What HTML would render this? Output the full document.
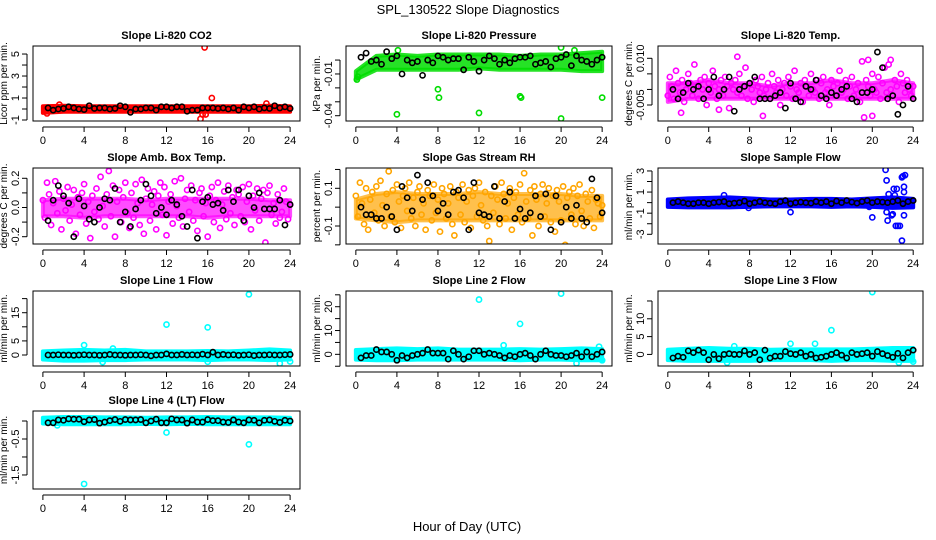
<!DOCTYPE html>
<html><head><meta charset="utf-8"><style>
html,body{margin:0;padding:0;background:#fff;}
svg{display:block;font-family:"Liberation Sans",Arial,sans-serif;}
</style></head><body>
<svg id="chart" width="936" height="540" viewBox="0 0 936 540" xmlns="http://www.w3.org/2000/svg">
<text x="468" y="14" text-anchor="middle" font-size="13">SPL_130522  Slope Diagnostics</text>
<text x="467" y="531" text-anchor="middle" font-size="13">Hour of Day (UTC)</text>
</svg>
<script>
// ---- data ----
const xTicks = [0,4,8,12,16,20,24];
const bandHours = [0,2,4,6,8,10,12,14,16,18,20,22,24];

const co2Black = [0.1,-0.1,0,0.05,0.2,0.1,0,-0.05,0.3,0.05,0.1,0.1,0,0.05,0.3,0.2,-0.3,0,0,0.1,0.1,-0.1,0.2,0.2,0.1,0.2,0.2,-0.2,-0.1,-0.1,0.1,0.1,0.1,0.05,0.1,0,0.1,-0.1,0.2,0.1,0.2,0,0.1,0.05,0.3,0.1,0.2,0.05];
const co2Lo = [-0.35,-0.25,-0.25,-0.25,-0.25,-0.25,-0.25,-0.25,-0.25,-0.25,-0.25,-0.25,-0.25];
const co2Hi = [0.25,0.3,0.25,0.25,0.25,0.25,0.25,0.25,0.25,0.25,0.25,0.3,0.25];
const co2Out = [[15.7,5.6],[16.4,1.0],[15.3,-0.9],[15.5,-0.5],[15.8,-0.5],[21.7,0.5],[1.6,0.4],[0.4,-0.4]];

const presBlack = [0.002,0.005,-0.001,0,-0.003,0.006,0.001,0.003,-0.010,0,-0.002,-0.001,-0.011,0,-0.002,0.003,0.002,0,0.001,0.001,-0.007,0.002,-0.001,-0.008,0,0.003,0.001,-0.003,0,-0.002,0.001,0.002,0.002,0.003,-0.003,-0.002,-0.001,-0.005,0.001,0.002,0.004,-0.004,0.003,0,-0.001,-0.003,0,0.002];
const presLo = [-0.014,-0.007,-0.007,-0.007,-0.007,-0.007,-0.006,-0.007,-0.007,-0.007,-0.007,-0.008,-0.008];
const presHi = [-0.008,0.003,0.004,0.003,0.004,0.004,0.004,0.004,0.003,0.004,0.004,0.005,0.006];
const presOut = [[4,-0.039],[8,-0.021],[8.1,-0.027],[12,-0.038],[16,-0.026],[16.1,-0.027],[20,-0.042],[24,-0.027],[20,0.009],[4.1,0.007],[21.3,0.007],[0.2,-0.012],[0.1,-0.014]];

const tempBlack = [0,-0.003,-0.001,0.002,0,0.001,-0.003,0,0.004,-0.002,0,0.004,-0.007,0,0.001,0.002,0.004,-0.003,-0.003,-0.003,-0.002,-0.001,-0.006,0.002,-0.003,-0.004,0.001,0,0.003,-0.002,-0.003,-0.001,-0.002,0,0.001,-0.003,-0.004,-0.001,-0.001,0,0.012,0.007,-0.003,-0.002,-0.008,-0.005,0.001,-0.003];
const tempLo = [-0.004,-0.003,-0.003,-0.003,-0.003,-0.003,-0.003,-0.003,-0.003,-0.003,-0.003,-0.003,-0.003];
const tempHi = [0.002,0.002,0.003,0.002,0.002,0.001,0.002,0.002,0.003,0.002,0.002,0.003,0.002];
const tempScatter = [-0.002,0.004,0.001,-0.003,0.006,0.002,-0.001,0.003,-0.004,0,0.005,0.002,-0.002,0.008,0.001,-0.003,0.003,0,0.004,-0.005,0.002,-0.001,0.006,0.001,-0.003,0,0.003,-0.002,0.004,0.001,-0.006,0.002,0,0.003,-0.001,0.005,-0.002,0.001,0.007,-0.003,0.002,0,-0.004,0.003,0.001,-0.001,0.004,-0.002,0,0.002,-0.003,0.005,0.001,-0.001,0.003,-0.005,0,0.002,-0.002,0.004,0.001,-0.003,0.006,0,-0.001,0.002,-0.004,0.003,0.001,-0.002,0.005,0,-0.001,0.003,-0.003,0.002,0.004,-0.001,0,-0.005,0.003,0.001,-0.002,0.002,0.006,-0.001,0,0.003,-0.003,0.001,0.004,-0.002,0,0.002,-0.004,0.009,-0.009,0.003,0.001,-0.002,0.005,0,-0.001,0.004,-0.003,0.002,0.007,-0.001,0.008,0,-0.002,0.003,0.001,-0.004,0.005,0.002,-0.001,0.003,0,-0.002,0.001];
const tempOut = [[6.8,0.0105],[1.3,-0.0075],[5,-0.0065],[9.3,-0.0085],[20,-0.0085],[19.6,0.0095],[21.8,0.0095]];

const boxBlack = [-0.09,0.05,0.15,0.08,0.03,-0.2,0.06,0.01,-0.08,-0.1,0,0.06,0.05,0.13,-0.1,-0.03,-0.13,-0.01,0.05,0.16,0.08,-0.04,0,-0.05,0.05,0.02,-0.06,-0.13,0.12,-0.21,0.04,0.07,0.02,0.03,-0.02,0.12,0.04,0.12,-0.09,0.08,0.0,0.1,-0.01,-0.01,-0.01,0.05,-0.12,0.02];
const boxLo = [-0.06,-0.06,-0.07,-0.06,-0.06,-0.06,-0.06,-0.06,-0.07,-0.06,-0.06,-0.06,-0.06];
const boxHi = [0.05,0.06,0.06,0.06,0.06,0.05,0.06,0.06,0.06,0.06,0.06,0.05,0.05];
const boxScatter = [0.05,-0.07,0.17,0.09,-0.12,0.03,0.18,-0.04,0.11,-0.15,0.06,-0.02,0.14,-0.09,0.02,0.12,-0.18,0.07,-0.05,0.1,0.16,-0.11,0.04,-0.21,0.08,-0.03,0.13,-0.08,0.21,0.01,-0.13,0.09,0.25,-0.06,0.15,-0.2,0.04,0.12,-0.1,0.07,0.17,-0.04,-0.14,0.1,-0.07,0.16,0.03,-0.12,0.19,-0.18,0.06,0.13,-0.09,0.02,0.11,-0.15,0.08,0.17,-0.05,0.14,-0.19,0.04,0.09,-0.11,0.18,0.01,-0.07,0.2,-0.13,0.06,0.12,-0.03,0.15,-0.09,0.05,-0.16,0.1,0.13,-0.06,0.03,-0.2,0.08,0.14,-0.1,0.05,0.17,-0.14,0.02,0.11,-0.08,0.15,-0.04,0.07,-0.12,0.12,0.09,-0.06,0.14,-0.1,0.04,0.16,-0.15,0.08,-0.02,0.13,-0.09,0.06,0.12,-0.24,0.1,0.15,-0.05,0.03,-0.11,0.09,-0.07,-0.03,0.13,0.04,-0.08,0.02];

const rhBlack = [0,-0.04,-0.04,-0.06,-0.06,0,-0.05,-0.12,0.11,0.05,-0.02,0.17,0.04,0.13,0.06,-0.02,0.02,-0.04,0.08,0.09,0.05,-0.12,0.13,-0.03,-0.04,-0.05,0.11,-0.06,0.03,0.08,-0.06,-0.01,-0.06,-0.03,0.06,-0.05,0.07,-0.12,0.06,-0.08,0.0,-0.06,0.01,-0.06,-0.08,0.15,0.05,-0.03];
const rhLo = [-0.06,-0.07,-0.08,-0.07,-0.07,-0.07,-0.07,-0.07,-0.07,-0.07,-0.07,-0.07,-0.07];
const rhHi = [0.04,0.07,0.08,0.07,0.07,0.07,0.08,0.07,0.07,0.07,0.07,0.06,0.06];
const rhScatter = [0.06,-0.05,0.13,0.02,-0.09,0.1,-0.12,0.04,0.08,-0.03,0.11,-0.07,0.14,0.01,-0.1,0.07,0.19,-0.05,0.09,-0.08,0.12,0.03,-0.11,0.06,0.1,-0.02,0.13,-0.06,0.05,-0.1,0.08,0.11,-0.04,0.02,-0.12,0.09,0.06,-0.07,0.12,-0.03,0.04,-0.13,0.1,0.07,-0.06,0.02,0.11,-0.09,-0.15,0.08,0.05,-0.04,0.12,-0.08,0.03,0.09,-0.11,0.06,0.1,-0.05,0.13,0.01,-0.07,0.08,-0.1,-0.18,0.06,-0.03,0.11,0.04,-0.09,0.13,0.07,-0.06,0.02,0.1,-0.12,0.05,0.08,-0.04,0.12,-0.08,0.18,0.03,-0.06,0.09,-0.15,0.11,0.04,-0.1,0.07,0.12,-0.05,0.02,0.1,-0.08,0.06,-0.13,0.09,0.03,-0.07,0.11,-0.2,0.05,0.08,-0.04,0.1,-0.09,0.06,0.12,-0.02,-0.1,0.07,0.03,-0.06,0.09,-0.11,0.04,0.02,-0.05,0.01];

const flowBlack = [0,0.1,0,-0.1,-0.1,0,0,-0.1,0,0.05,0.1,-0.1,-0.05,0,0.15,-0.1,0,0.1,0,-0.05,-0.1,0.1,0.2,-0.1,0,0.05,0,-0.05,0.1,0,0.1,-0.1,0.15,0,0.2,0.05,-0.05,0.1,0.2,0,0.1,0.05,0,0.1,0.2,-0.1,0.1,0.2];
const flowLo = [-0.4,-0.45,-0.45,-0.45,-0.4,-0.35,-0.35,-0.35,-0.4,-0.35,-0.4,-0.5,-0.45];
const flowHi = [0.3,0.4,0.45,0.5,0.4,0.3,0.3,0.35,0.35,0.3,0.4,0.5,0.35];
const flowOut = [[21.3,3.1],[21.4,2.1],[21.5,-1.7],[21.4,-0.9],[21.6,0.8],[21.9,-1.2],[22.0,-1.1],[22.1,1.3],[22.3,-2.2],[22.5,-2.2],[22.7,-2.2],[22.9,2.4],[23.0,2.5],[23.1,1.5],[23.1,1.0],[23.2,2.6],[22.9,-3.6],[23.1,-1.2],[22.2,0.7],[12,-0.9],[20,-1.4],[7.9,-0.5],[21.8,0.3],[22.4,1.3],[5.5,0.7],[19.7,-0.4]];

const l1Black = [0,0,0.1,0,0,-0.1,0,0.1,0,0,-0.1,0,0.2,0,0,-0.1,0,0,0.1,0,-0.3,0,0,0.4,0,0,0.2,0,0.1,0,0.3,0,1,0,0.2,0,0.1,-0.1,0,0.1,-0.2,0,0,0.1,0,0,0.1,0.2];
const l1Lo = [-1.6,-2,-2,-1.8,-1.8,-1.6,-1.6,-1.6,-1.8,-1.6,-1.6,-1.8,-1.6];
const l1Hi = [1.3,1.6,1.8,1.6,1.8,1.3,1.3,1.3,1.4,1.3,1.6,2,1.6];
const l1Out = [[4,3.5],[12,10.8],[16,9.8],[20,21.5],[5.8,-2.5],[16,-2.4],[23,-3],[24,-2.3],[6.8,2.3]];

const l2Black = [-1.5,-0.5,-0.5,2,1,1,0,-2.5,-0.5,-1.5,-0.5,0,0.5,2,0.5,0.5,0.5,-2,1.5,0,-2,-1,1.5,1.5,0,0.5,0,-0.5,-1.5,-0.5,-1,0,0.5,-0.5,-2,0,1.5,0,-0.5,-0.5,-1,-0.5,0.5,-1,1,-1,0,1];
const l2Lo = [-2.2,-2.5,-2.5,-2.2,-2.2,-2.2,-2.2,-2.2,-2.5,-2.2,-2.2,-2.5,-2.5];
const l2Hi = [1.8,2.2,2.5,2.2,2.5,2,2,2,2.2,2,2.2,2.5,2.2];
const l2Out = [[12,23],[16,12.8],[20,25.5],[14.4,3.8],[21.5,-3.8],[23.7,3.2],[24,-2.5]];

const l3Black = [-1,-0.5,-0.8,1,0.5,1.2,0.5,-1.5,0,-1.2,0,0.2,0,0,1,0,0.5,-1.5,1.2,-1,-0.5,-0.5,0.8,0.2,0,0.5,-0.5,0,-1,-0.8,-0.5,0,0.5,-0.2,-1,0.5,0,0.2,0.5,-0.5,0.8,0.2,-0.3,-0.8,0.3,-1,0.5,1.2];
const l3Lo = [-1.6,-1.8,-1.8,-1.8,-1.8,-1.6,-1.6,-1.6,-1.8,-1.6,-1.6,-1.8,-1.8];
const l3Hi = [1.3,1.6,1.8,1.6,1.6,1.3,1.4,1.4,1.4,1.4,1.6,1.8,1.8];
const l3Out = [[20,17.5],[16,6.8],[12,3.0],[14.4,3.0],[24,-2.0],[22.6,-2.3],[5.8,-2.3],[6.5,2.3]];

const l4Black = [-0.05,-0.05,0.03,0.02,0.06,0.05,0.05,-0.02,0.03,0.04,-0.06,-0.03,0.01,0.04,-0.01,0.04,0.03,0.03,0.04,-0.05,0,0.05,-0.05,-0.05,0.06,0.03,0.03,-0.06,0.03,-0.03,-0.03,0.04,0.01,0.01,-0.03,-0.04,0.03,-0.03,-0.05,0.03,0.02,-0.05,0.02,0.03,-0.01,-0.04,0.02,0.0];
const l4Lo = [-0.07,-0.09,-0.09,-0.09,-0.09,-0.08,-0.09,-0.08,-0.09,-0.09,-0.09,-0.09,-0.09];
const l4Hi = [0.09,0.11,0.11,0.1,0.1,0.09,0.1,0.1,0.11,0.1,0.1,0.1,0.09];
const l4Out = [[4,-1.75],[12,-0.32],[20,-0.65],[1.4,-0.12]];

// ---- layout ----
const cols = [[33,300],[346,612],[658,923]];
const rows = [[46,121],[168,244],[291,366],[411,489]];
const XMIN = -0.96, XMAX = 24.96;

const panels = [
 {id:'co2',title:'Slope Li-820 CO2',ylab:'Licor ppm per min.',c:0,r:0,y:[-1.09,5.73],ticks:[-1,0,1,2,3,4,5],labs:[-1,1,3,5],col:'#ff0000',op:1,lo:co2Lo,hi:co2Hi,sc:null,out:co2Out,blk:co2Black},
 {id:'pressure',title:'Slope Li-820 Pressure',ylab:'kPa per min.',c:1,r:0,y:[-0.0438,0.0101],ticks:[-0.04,-0.03,-0.02,-0.01,0],labs:[-0.04,-0.01],fmt:v=>v.toFixed(2),col:'#00dd00',op:0.85,lo:presLo,hi:presHi,sc:null,out:presOut,blk:presBlack},
 {id:'temp',title:'Slope Li-820 Temp.',ylab:'degrees C per min.',c:2,r:0,y:[-0.01014,0.01395],ticks:[-0.005,0,0.005,0.01],labs:[-0.005,0.01],fmt:v=>v.toFixed(3),col:'#ff00ff',op:0.75,lo:tempLo,hi:tempHi,sc:tempScatter,out:tempOut,blk:tempBlack},
 {id:'box-temp',title:'Slope Amb. Box Temp.',ylab:'degrees C per min.',c:0,r:1,y:[-0.25,0.2705],ticks:[-0.2,-0.1,0,0.1,0.2],labs:[-0.2,0,0.2],fmt:v=>v.toFixed(1),col:'#ff00ff',op:0.7,lo:boxLo,hi:boxHi,sc:boxScatter,out:[],blk:boxBlack},
 {id:'rh',title:'Slope Gas Stream RH',ylab:'percent per min.',c:1,r:1,y:[-0.1955,0.2077],ticks:[-0.2,-0.1,0,0.1,0.2],labs:[-0.1,0.1],fmt:v=>v.toFixed(1),col:'#ffa500',op:0.7,lo:rhLo,hi:rhHi,sc:rhScatter,out:[],blk:rhBlack},
 {id:'sample-flow',title:'Slope Sample Flow',ylab:'ml/min per min.',c:2,r:1,y:[-3.92,3.28],ticks:[-3,-2,-1,0,1,2,3],labs:[-3,-1,1,3],col:'#0000ff',op:1,lo:flowLo,hi:flowHi,sc:null,out:flowOut,blk:flowBlack},
 {id:'line1',title:'Slope Line 1 Flow',ylab:'ml/min per min.',c:0,r:2,y:[-3.9,22.7],ticks:[0,5,10,15,20],labs:[0,5,15],col:'#00ffff',op:1,lo:l1Lo,hi:l1Hi,sc:null,out:l1Out,blk:l1Black},
 {id:'line2',title:'Slope Line 2 Flow',ylab:'ml/min per min.',c:1,r:2,y:[-4.9,26.6],ticks:[-5,0,5,10,15,20,25],labs:[0,10,20],col:'#00ffff',op:1,lo:l2Lo,hi:l2Hi,sc:null,out:l2Out,blk:l2Black},
 {id:'line3',title:'Slope Line 3 Flow',ylab:'ml/min per min.',c:2,r:2,y:[-3.25,17.8],ticks:[0,5,10,15],labs:[0,5,10],col:'#00ffff',op:1,lo:l3Lo,hi:l3Hi,sc:null,out:l3Out,blk:l3Black},
 {id:'line4',title:'Slope Line 4 (LT) Flow',ylab:'ml/min per min.',c:0,r:3,y:[-1.89,0.278],ticks:[-1.5,-1,-0.5,0],labs:[-1.5,-0.5],fmt:v=>v.toFixed(1),col:'#00ffff',op:1,lo:l4Lo,hi:l4Hi,sc:null,out:l4Out,blk:l4Black}
];

const NS='http://www.w3.org/2000/svg';
const svg=document.getElementById('chart');
function mk(tag,attrs,parent){const e=document.createElementNS(NS,tag);for(const k in attrs)e.setAttribute(k,attrs[k]);(parent||svg).appendChild(e);return e;}

panels.forEach(p=>{
  const [L,R]=cols[p.c],[T,B]=rows[p.r];
  const sx=v=>L+(v-XMIN)/(XMAX-XMIN)*(R-L);
  const sy=v=>B-(v-p.y[0])/(p.y[1]-p.y[0])*(B-T);
  const g=mk('g',{});
  
  
  const clipId='clip-'+p.id;
  const cp=mk('clipPath',{id:clipId},g); mk('rect',{x:L,y:T,width:R-L,height:B-T},cp);
  const marks=mk('g',{'clip-path':'url(#'+clipId+')'},g);
  let pts=bandHours.map((h,i)=>sx(h)+','+sy(p.hi[i]));
  pts=pts.concat(bandHours.map((h,i)=>sx(h)+','+sy(p.lo[i])).reverse());
  const band=mk('polygon',{points:pts.join(' '),fill:p.col,'fill-opacity':p.op,stroke:p.col,'stroke-opacity':p.op,'stroke-width':4,'stroke-linejoin':'round'},marks);
  
  
  if(p.sc){p.sc.forEach((v,i)=>{
    const c=mk('circle',{cx:sx(i*24/(p.sc.length-1)),cy:sy(v),r:2.6,fill:'none',stroke:p.col,'stroke-width':1.6},marks);
    
    
  });}
  p.out.forEach(o=>{
    const c=mk('circle',{cx:sx(o[0]),cy:sy(o[1]),r:2.6,fill:'none',stroke:p.col,'stroke-width':1.6},marks);
    
    
  });
  p.blk.forEach((v,i)=>{
    const c=mk('circle',{cx:sx((i+1)*0.5),cy:sy(v),r:2.6,fill:'none',stroke:'#000','stroke-width':1.6},marks);
    
    
  });
  mk('rect',{x:L,y:T,width:R-L,height:B-T,fill:'none',stroke:'#000','stroke-width':1},g);
  const t=mk('text',{x:(L+R)/2,y:T-7,'text-anchor':'middle','font-size':11,'font-weight':'bold'},g);
  t.textContent=p.title;
  
  
  mk('line',{x1:sx(xTicks[0]),x2:sx(xTicks[xTicks.length-1]),y1:B+6,y2:B+6,stroke:'#000'},g);
  xTicks.forEach(v=>{
    mk('line',{x1:sx(v),x2:sx(v),y1:B+6,y2:B+11,stroke:'#000'},g);
    const tx=mk('text',{x:sx(v),y:B+23,'text-anchor':'middle','font-size':11},g);
    tx.textContent=v;
    
    
  });
  const yt=p.ticks;
  mk('line',{x1:L-6,x2:L-6,y1:sy(yt[0]),y2:sy(yt[yt.length-1]),stroke:'#000'},g);
  yt.forEach(v=>mk('line',{x1:L-11,x2:L-6,y1:sy(v),y2:sy(v),stroke:'#000'},g));
  p.labs.forEach(v=>{
    const x=L-14,y=sy(v);
    const ty=mk('text',{x:x,y:y,'text-anchor':'middle','font-size':11,transform:'rotate(-90 '+x+' '+y+')'},g);
    ty.textContent=p.fmt?p.fmt(v):String(v);
    
    
  });
  const lx=L-26,ly=(T+B)/2;
  const yl=mk('text',{x:lx,y:ly,'text-anchor':'middle','font-size':10,transform:'rotate(-90 '+lx+' '+ly+')'},g);
  yl.textContent=p.ylab;
  
  
});
</script>
</body></html>
